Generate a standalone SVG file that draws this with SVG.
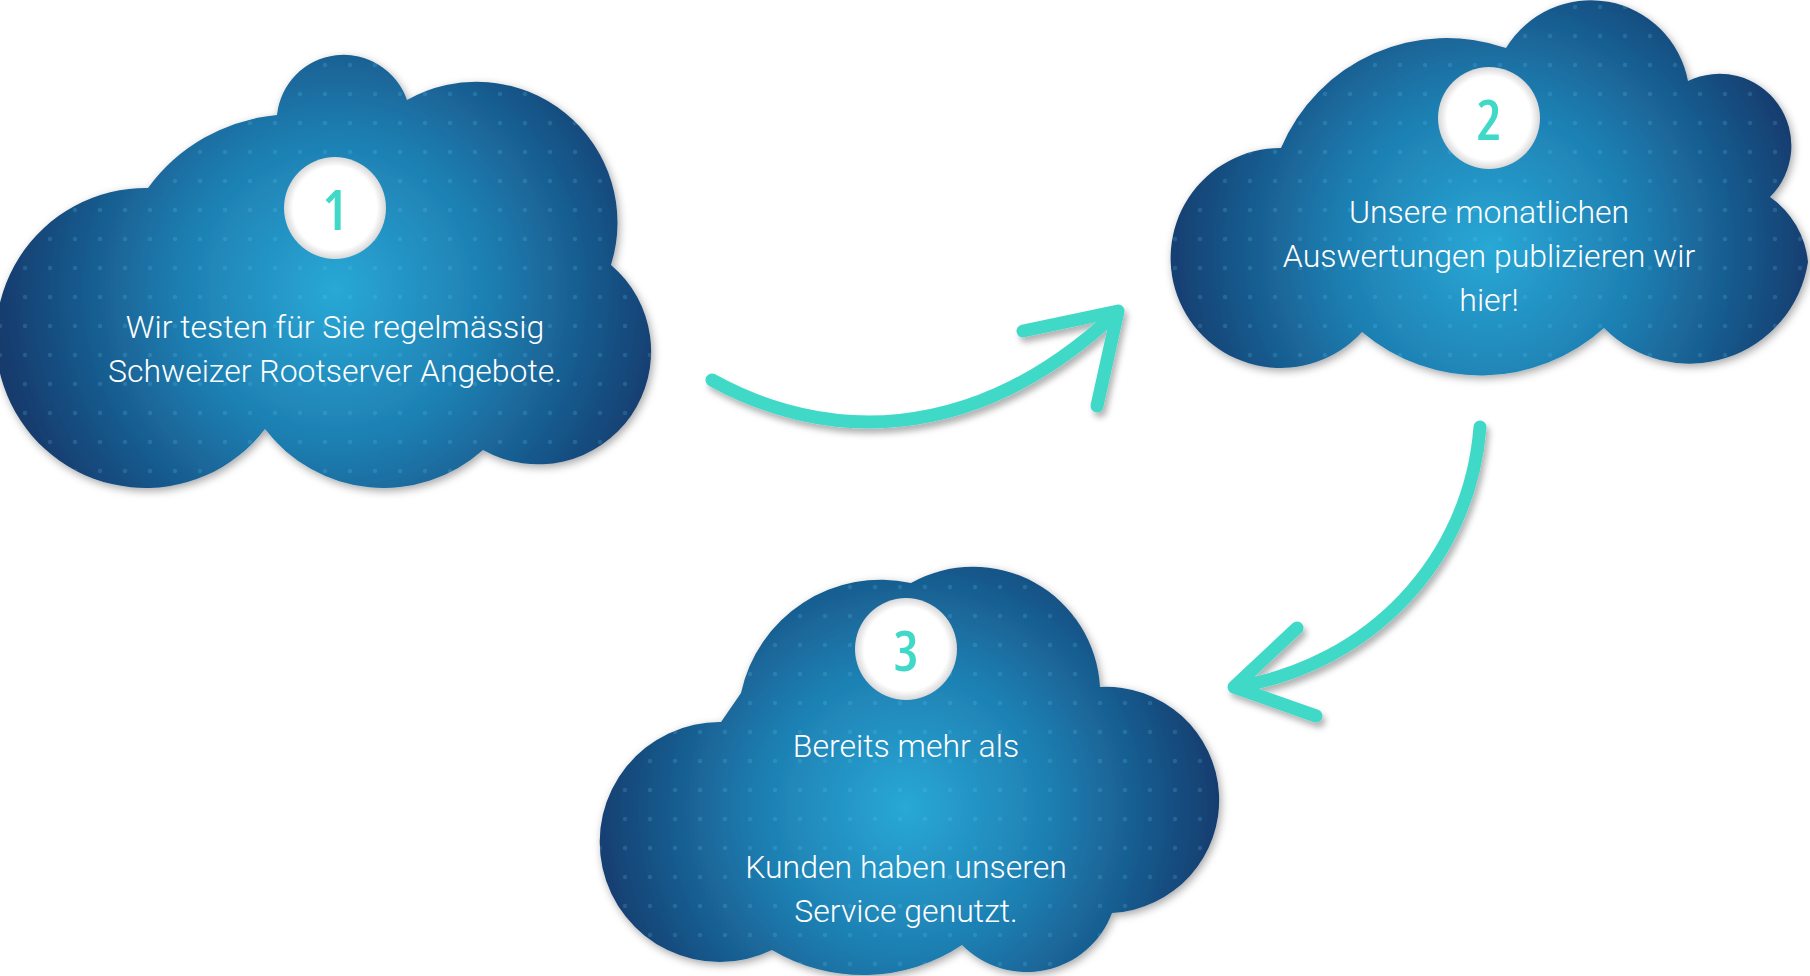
<svg xmlns="http://www.w3.org/2000/svg" width="1810" height="976" viewBox="0 0 1810 976">
<style>
.lbl{font-family:Roboto,"Open Sans","Liberation Sans",sans-serif;font-size:32px;fill:#ffffff;text-anchor:middle;font-weight:300}
.num{font-family:"Open Sans","DejaVu Sans Condensed","Liberation Sans",sans-serif;font-stretch:condensed;font-size:56px;fill:#40d9c8;text-anchor:middle;font-weight:600}
.badge{fill:url(#badgeGrad)}
.dots{fill:url(#dots)}
.arrow{fill:none;stroke:#40d9c8;stroke-width:13;stroke-linecap:round;stroke-linejoin:round}
</style>
<defs>
<filter id="shadow" x="-10%" y="-10%" width="120%" height="120%">
<feDropShadow dx="2" dy="3" stdDeviation="4" flood-color="#000" flood-opacity="0.35"/>
</filter>
<filter id="ashadow" x="-10%" y="-20%" width="120%" height="140%">
<feDropShadow dx="3" dy="5" stdDeviation="3" flood-color="#000" flood-opacity="0.3"/>
</filter>
<radialGradient id="badgeGrad" cx="0.5" cy="0.5" r="0.5">
<stop offset="0.82" stop-color="#ffffff"/>
<stop offset="1" stop-color="#d8d8d8"/>
</radialGradient>
<radialGradient id="g1" gradientUnits="userSpaceOnUse" cx="335" cy="290" r="340">
<stop offset="0" stop-color="#29a8d6"/>
<stop offset="0.45" stop-color="#1e7fb2"/>
<stop offset="0.8" stop-color="#175386"/>
<stop offset="1" stop-color="#123a6c"/>
</radialGradient>
<radialGradient id="g2" gradientUnits="userSpaceOnUse" cx="1489" cy="248" r="330">
<stop offset="0" stop-color="#29a8d6"/>
<stop offset="0.45" stop-color="#1e7fb2"/>
<stop offset="0.8" stop-color="#175386"/>
<stop offset="1" stop-color="#123a6c"/>
</radialGradient>
<radialGradient id="g3" gradientUnits="userSpaceOnUse" cx="906" cy="808" r="320">
<stop offset="0" stop-color="#29a8d6"/>
<stop offset="0.45" stop-color="#1e7fb2"/>
<stop offset="0.8" stop-color="#175386"/>
<stop offset="1" stop-color="#123a6c"/>
</radialGradient>
<pattern id="dots" patternUnits="userSpaceOnUse" x="0" y="7" width="25" height="29">
<circle cx="0" cy="0" r="2.2" fill="#5fc6ee" fill-opacity="0.2"/>
<circle cx="25" cy="0" r="2.2" fill="#5fc6ee" fill-opacity="0.2"/>
<circle cx="0" cy="29" r="2.2" fill="#5fc6ee" fill-opacity="0.2"/>
<circle cx="25" cy="29" r="2.2" fill="#5fc6ee" fill-opacity="0.2"/>
</pattern>
<path id="cloud1" d="M265,429 A150,150 0 1 1 148,188 A180,180 0 0 1 277,115 A67,67 0 0 1 407,100 A141,141 0 0 1 611,265 A113,113 0 0 1 483,450 A149,149 0 0 1 265,429 Z"/>
<path id="cloud2" d="M1362,332 A110,110 0 1 1 1281,148 A180,180 0 0 1 1506,48 A99,99 0 0 1 1688,81 A72,72 0 0 1 1770,197 A90,90 0 0 1 1808,262 A120,120 0 0 1 1604,328 A184,184 0 0 1 1362,332 Z"/>
<path id="cloud3" d="M772,950 A120,120 0 1 1 721,722 L741,693 A143,143 0 0 1 911,583 A127,127 0 0 1 1100,687 A113,113 0 0 1 1112,913 A91,91 0 0 1 962,945 A178,178 0 0 1 772,950 Z"/>
</defs>
<rect width="1810" height="976" fill="#ffffff"/>

<g id="node1">
<use href="#cloud1" fill="url(#g1)" filter="url(#shadow)"/>
<use href="#cloud1" class="dots"/>
<circle class="badge" cx="335" cy="208" r="51"/>
<text class="num" x="335" y="230">1</text>
<text class="lbl" x="335" y="338">Wir testen für Sie regelmässig</text>
<text class="lbl" x="335" y="382">Schweizer Rootserver Angebote.</text>
</g>

<g id="node2">
<use href="#cloud2" fill="url(#g2)" filter="url(#shadow)"/>
<use href="#cloud2" class="dots"/>
<circle class="badge" cx="1489" cy="118" r="51"/>
<text class="num" x="1489" y="140">2</text>
<text class="lbl" x="1489" y="223">Unsere monatlichen</text>
<text class="lbl" x="1489" y="267">Auswertungen publizieren wir</text>
<text class="lbl" x="1489" y="311">hier!</text>
</g>

<g id="node3">
<use href="#cloud3" fill="url(#g3)" filter="url(#shadow)"/>
<use href="#cloud3" class="dots"/>
<circle class="badge" cx="906" cy="649" r="51"/>
<text class="num" x="906" y="671">3</text>
<text class="lbl" x="906" y="757">Bereits mehr als</text>
<text class="lbl" x="906" y="878">Kunden haben unseren</text>
<text class="lbl" x="906" y="922">Service genutzt.</text>
</g>

<g id="connectors" filter="url(#ashadow)">
<path class="arrow" d="M712,380 C820,440 970,450 1116,313"/>
<path class="arrow" d="M1023,331 L1118,311 L1097,406"/>
<path class="arrow" d="M1480,427 C1470,560 1370,665 1236,687"/>
<path class="arrow" d="M1297,628 L1234,687 L1316,716"/>
</g>
</svg>
